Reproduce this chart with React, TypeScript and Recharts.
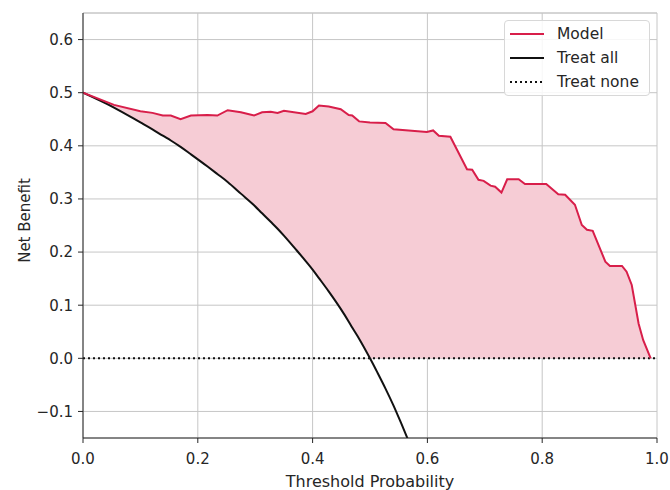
import {
  Area,
  CartesianGrid,
  ComposedChart,
  Label,
  Legend,
  Line,
  ReferenceLine,
  XAxis,
  YAxis,
} from "recharts";

// threshold probabilities where the model curve was read
const thresholds = [
  0, 0.054, 0.1, 0.121, 0.139, 0.153, 0.17, 0.188, 0.217, 0.234, 0.252, 0.275, 0.298, 0.312,
  0.327, 0.339, 0.35, 0.388, 0.4, 0.411, 0.428, 0.449, 0.463, 0.469, 0.481, 0.5, 0.527, 0.541,
  0.599, 0.61, 0.62, 0.64, 0.669, 0.678, 0.689, 0.698, 0.71, 0.718, 0.729, 0.739, 0.759, 0.77,
  0.807, 0.828, 0.84, 0.857, 0.869, 0.878, 0.888, 0.91, 0.918, 0.939, 0.947, 0.956, 0.968,
  0.976, 0.989,
];
const modelNB = [
  0.5, 0.477, 0.465, 0.462, 0.457, 0.457, 0.45, 0.457, 0.458, 0.457, 0.467, 0.463, 0.457, 0.463,
  0.464, 0.462, 0.466, 0.46, 0.465, 0.476, 0.474, 0.469, 0.458, 0.457, 0.446, 0.444, 0.443, 0.431,
  0.426, 0.429, 0.419, 0.417, 0.356, 0.355, 0.336, 0.334, 0.325, 0.323, 0.312, 0.337, 0.337, 0.328,
  0.328, 0.309, 0.308, 0.289, 0.251, 0.242, 0.24, 0.182, 0.174, 0.174, 0.163, 0.138, 0.065,
  0.034, 0,
];

// treat-all curve
const treatAllX = [
  0, 0.054, 0.1, 0.121, 0.139, 0.153, 0.17, 0.188, 0.217, 0.234, 0.252, 0.275, 0.298, 0.312,
  0.327, 0.339, 0.35, 0.37, 0.388, 0.4, 0.411, 0.428, 0.449, 0.463, 0.469, 0.481, 0.5, 0.513,
  0.527, 0.541, 0.555, 0.57,
];
const treatAllNB = [
  0.5, 0.472, 0.444, 0.431, 0.419, 0.41, 0.398, 0.384, 0.361, 0.347, 0.332, 0.31, 0.288, 0.273,
  0.257, 0.244, 0.231, 0.206, 0.183, 0.167, 0.151, 0.126, 0.093, 0.069, 0.058, 0.037, 0, -0.027,
  -0.057, -0.089, -0.124, -0.163,
];

const treatNoneX = [0, 1];
const treatNoneNB = [0, 0];

const xTicks = [0, 0.2, 0.4, 0.6, 0.8, 1.0];
const yTicks = [-0.1, 0, 0.1, 0.2, 0.3, 0.4, 0.5, 0.6];
const yMin = -0.15;
const yMax = 0.65;

const MODEL = "#d81e4a";
const FILL = "#f6ccd5";
const TEXT = "#262626";
const GRID = "#c6c6c6";
const FONT = "'DejaVu Sans', sans-serif";

const modelData = thresholds.map((x, i) => ({ x, y: modelNB[i] }));
const treatAllData = treatAllX.map((x, i) => ({ x, y: treatAllNB[i] }));
const treatNoneData = treatNoneX.map((x, i) => ({ x, y: treatNoneNB[i] }));

// shaded band: model above max(treat all, treat none)
const bandData = thresholds.map((x, i) => {
  const j = treatAllX.indexOf(x);
  const floor = j >= 0 ? Math.max(treatAllNB[j], 0) : 0;
  return { x, band: [floor, modelNB[i]] };
});

const fmtY = (v: number) => {
  const s = Math.abs(v).toFixed(1);
  return v < -1e-9 ? `\u2212${s}` : s;
};

const legendItems = [
  { label: "Model", color: MODEL, dash: undefined as string | undefined },
  { label: "Treat all", color: "#111", dash: undefined },
  { label: "Treat none", color: "#111", dash: "2 3" },
];

function LegendBox() {
  return (
    <div
      style={{
        width: 146,
        height: 76,
        boxSizing: "border-box",
        border: "1px solid #d8d8d8",
        borderRadius: 4,
        background: "rgba(255,255,255,0.85)",
        position: "relative",
        fontFamily: FONT,
        fontSize: 15.5,
        color: TEXT,
      }}
    >
      {legendItems.map((it, i) => (
        <div
          key={it.label}
          style={{ position: "absolute", left: 4, top: 1 + i * 24, height: 24, display: "flex", alignItems: "center" }}
        >
          <svg width={36} height={10} style={{ marginRight: 12 }}>
            <line x1={1} x2={35} y1={5} y2={5} stroke={it.color} strokeWidth={2} strokeDasharray={it.dash} />
          </svg>
          <span>{it.label}</span>
        </div>
      ))}
    </div>
  );
}

export default function App() {
  return (
    <div style={{ position: "absolute", left: 0, top: 0, background: "#fff" }}>
      <ComposedChart width={670} height={490} margin={{ top: 13, right: 13, bottom: 0, left: 0 }}>
        <CartesianGrid stroke={GRID} strokeWidth={1} />
        <XAxis
          type="number"
          dataKey="x"
          domain={[0, 1]}
          ticks={xTicks}
          tickFormatter={(v: number) => v.toFixed(1)}
          height={52}
          stroke={TEXT}
          tick={{ fill: TEXT, fontSize: 15, fontFamily: FONT }}
          tickSize={5}
          tickMargin={10}
          allowDataOverflow
        >
          <Label
            value="Threshold Probability"
            position="insideBottom"
            offset={3}
            style={{ fill: TEXT, fontSize: 16, fontFamily: FONT }}
          />
        </XAxis>
        <YAxis
          type="number"
          domain={[yMin, yMax]}
          ticks={yTicks}
          tickFormatter={fmtY}
          width={83}
          stroke={TEXT}
          tick={{ fill: TEXT, fontSize: 15, fontFamily: FONT }}
          tickSize={5}
          tickMargin={5}
          allowDataOverflow
          label={(props: any) => {
            const vb = props.viewBox || { y: 13, height: 425 };
            const cy = vb.y + vb.height / 2 - 5;
            return (
              <text
                x={30}
                y={cy}
                transform={`rotate(-90, 30, ${cy})`}
                textAnchor="middle"
                fill={TEXT}
                fontSize={15}
                fontFamily={FONT}
              >
                Net Benefit
              </text>
            );
          }}
        />
        <ReferenceLine y={yMax} stroke={GRID} strokeWidth={1} />
        <Area
          data={bandData}
          dataKey="band"
          type="linear"
          stroke="none"
          fill={FILL}
          fillOpacity={1}
          isAnimationActive={false}
          legendType="none"
        />
        <Line
          data={treatAllData}
          dataKey="y"
          name="Treat all"
          type="monotone"
          stroke="#111"
          strokeWidth={2}
          dot={false}
          isAnimationActive={false}
        />
        <Line
          data={treatNoneData}
          dataKey="y"
          name="Treat none"
          type="linear"
          stroke="#111"
          strokeWidth={2}
          strokeDasharray="2 3"
          dot={false}
          isAnimationActive={false}
        />
        <Line
          data={modelData}
          dataKey="y"
          name="Model"
          type="linear"
          stroke={MODEL}
          strokeWidth={2}
          dot={false}
          isAnimationActive={false}
        />
        <Legend
          layout="vertical"
          align="center"
          verticalAlign="middle"
          wrapperStyle={{ left: 504, top: 20, width: 146, height: 76 }}
          content={() => <LegendBox />}
        />
      </ComposedChart>
    </div>
  );
}
